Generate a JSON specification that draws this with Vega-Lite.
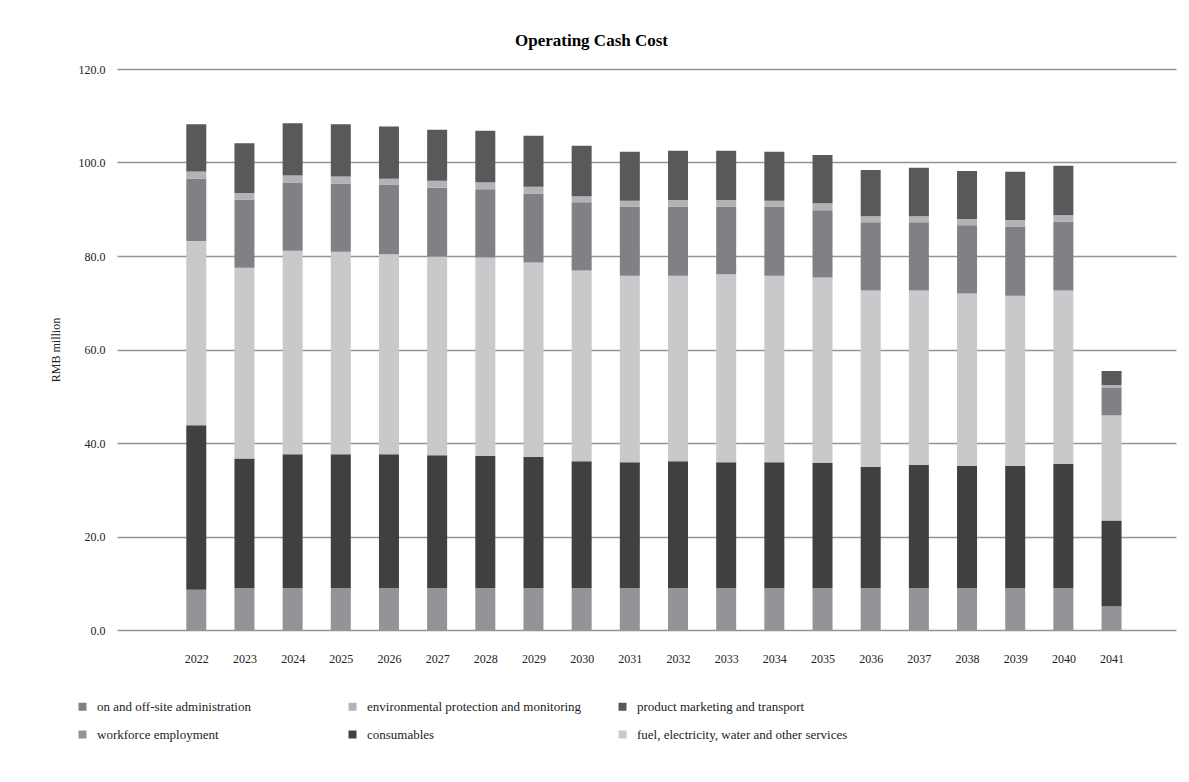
{
  "$schema": "https://vega.github.io/schema/vega-lite/v6.json",
  "autosize": {"type": "none"},
  "width": 1059,
  "height": 561,
  "padding": {"left": 117, "top": 69, "right": 13, "bottom": 152},
  "background": "white",
  "title": {
    "text": "Operating Cash Cost",
    "font": "Liberation Serif",
    "fontSize": 17,
    "fontWeight": "bold",
    "color": "#000000",
    "anchor": "middle",
    "frame": "group",
    "dx": -55,
    "baseline": "alphabetic",
    "offset": 0
  },
  "config": {
    "view": {"stroke": null},
    "font": "Liberation Serif"
  },
  "data": {
    "values": [
      {"year": 2022, "category": "workforce employment", "value": 8.6},
      {"year": 2022, "category": "consumables", "value": 35.2},
      {"year": 2022, "category": "fuel, electricity, water and other services", "value": 39.4},
      {"year": 2022, "category": "on and off-site administration", "value": 13.4},
      {"year": 2022, "category": "environmental protection and monitoring", "value": 1.5},
      {"year": 2022, "category": "product marketing and transport", "value": 10.1},
      {"year": 2023, "category": "workforce employment", "value": 9.0},
      {"year": 2023, "category": "consumables", "value": 27.7},
      {"year": 2023, "category": "fuel, electricity, water and other services", "value": 40.8},
      {"year": 2023, "category": "on and off-site administration", "value": 14.6},
      {"year": 2023, "category": "environmental protection and monitoring", "value": 1.4},
      {"year": 2023, "category": "product marketing and transport", "value": 10.6},
      {"year": 2024, "category": "workforce employment", "value": 9.0},
      {"year": 2024, "category": "consumables", "value": 28.6},
      {"year": 2024, "category": "fuel, electricity, water and other services", "value": 43.5},
      {"year": 2024, "category": "on and off-site administration", "value": 14.6},
      {"year": 2024, "category": "environmental protection and monitoring", "value": 1.5},
      {"year": 2024, "category": "product marketing and transport", "value": 11.2},
      {"year": 2025, "category": "workforce employment", "value": 9.0},
      {"year": 2025, "category": "consumables", "value": 28.6},
      {"year": 2025, "category": "fuel, electricity, water and other services", "value": 43.3},
      {"year": 2025, "category": "on and off-site administration", "value": 14.6},
      {"year": 2025, "category": "environmental protection and monitoring", "value": 1.5},
      {"year": 2025, "category": "product marketing and transport", "value": 11.2},
      {"year": 2026, "category": "workforce employment", "value": 9.0},
      {"year": 2026, "category": "consumables", "value": 28.6},
      {"year": 2026, "category": "fuel, electricity, water and other services", "value": 42.8},
      {"year": 2026, "category": "on and off-site administration", "value": 14.8},
      {"year": 2026, "category": "environmental protection and monitoring", "value": 1.3},
      {"year": 2026, "category": "product marketing and transport", "value": 11.2},
      {"year": 2027, "category": "workforce employment", "value": 9.0},
      {"year": 2027, "category": "consumables", "value": 28.4},
      {"year": 2027, "category": "fuel, electricity, water and other services", "value": 42.5},
      {"year": 2027, "category": "on and off-site administration", "value": 14.7},
      {"year": 2027, "category": "environmental protection and monitoring", "value": 1.5},
      {"year": 2027, "category": "product marketing and transport", "value": 10.9},
      {"year": 2028, "category": "workforce employment", "value": 9.0},
      {"year": 2028, "category": "consumables", "value": 28.2},
      {"year": 2028, "category": "fuel, electricity, water and other services", "value": 42.5},
      {"year": 2028, "category": "on and off-site administration", "value": 14.6},
      {"year": 2028, "category": "environmental protection and monitoring", "value": 1.5},
      {"year": 2028, "category": "product marketing and transport", "value": 11.0},
      {"year": 2029, "category": "workforce employment", "value": 9.0},
      {"year": 2029, "category": "consumables", "value": 28.0},
      {"year": 2029, "category": "fuel, electricity, water and other services", "value": 41.6},
      {"year": 2029, "category": "on and off-site administration", "value": 14.7},
      {"year": 2029, "category": "environmental protection and monitoring", "value": 1.5},
      {"year": 2029, "category": "product marketing and transport", "value": 10.9},
      {"year": 2030, "category": "workforce employment", "value": 9.0},
      {"year": 2030, "category": "consumables", "value": 27.1},
      {"year": 2030, "category": "fuel, electricity, water and other services", "value": 40.8},
      {"year": 2030, "category": "on and off-site administration", "value": 14.6},
      {"year": 2030, "category": "environmental protection and monitoring", "value": 1.3},
      {"year": 2030, "category": "product marketing and transport", "value": 10.8},
      {"year": 2031, "category": "workforce employment", "value": 9.0},
      {"year": 2031, "category": "consumables", "value": 26.9},
      {"year": 2031, "category": "fuel, electricity, water and other services", "value": 39.9},
      {"year": 2031, "category": "on and off-site administration", "value": 14.7},
      {"year": 2031, "category": "environmental protection and monitoring", "value": 1.3},
      {"year": 2031, "category": "product marketing and transport", "value": 10.5},
      {"year": 2032, "category": "workforce employment", "value": 9.0},
      {"year": 2032, "category": "consumables", "value": 27.1},
      {"year": 2032, "category": "fuel, electricity, water and other services", "value": 39.7},
      {"year": 2032, "category": "on and off-site administration", "value": 14.7},
      {"year": 2032, "category": "environmental protection and monitoring", "value": 1.5},
      {"year": 2032, "category": "product marketing and transport", "value": 10.5},
      {"year": 2033, "category": "workforce employment", "value": 9.0},
      {"year": 2033, "category": "consumables", "value": 26.9},
      {"year": 2033, "category": "fuel, electricity, water and other services", "value": 40.2},
      {"year": 2033, "category": "on and off-site administration", "value": 14.4},
      {"year": 2033, "category": "environmental protection and monitoring", "value": 1.5},
      {"year": 2033, "category": "product marketing and transport", "value": 10.5},
      {"year": 2034, "category": "workforce employment", "value": 9.0},
      {"year": 2034, "category": "consumables", "value": 26.9},
      {"year": 2034, "category": "fuel, electricity, water and other services", "value": 39.9},
      {"year": 2034, "category": "on and off-site administration", "value": 14.7},
      {"year": 2034, "category": "environmental protection and monitoring", "value": 1.3},
      {"year": 2034, "category": "product marketing and transport", "value": 10.5},
      {"year": 2035, "category": "workforce employment", "value": 9.0},
      {"year": 2035, "category": "consumables", "value": 26.7},
      {"year": 2035, "category": "fuel, electricity, water and other services", "value": 39.7},
      {"year": 2035, "category": "on and off-site administration", "value": 14.4},
      {"year": 2035, "category": "environmental protection and monitoring", "value": 1.5},
      {"year": 2035, "category": "product marketing and transport", "value": 10.3},
      {"year": 2036, "category": "workforce employment", "value": 9.0},
      {"year": 2036, "category": "consumables", "value": 25.9},
      {"year": 2036, "category": "fuel, electricity, water and other services", "value": 37.7},
      {"year": 2036, "category": "on and off-site administration", "value": 14.6},
      {"year": 2036, "category": "environmental protection and monitoring", "value": 1.3},
      {"year": 2036, "category": "product marketing and transport", "value": 9.9},
      {"year": 2037, "category": "workforce employment", "value": 9.0},
      {"year": 2037, "category": "consumables", "value": 26.3},
      {"year": 2037, "category": "fuel, electricity, water and other services", "value": 37.3},
      {"year": 2037, "category": "on and off-site administration", "value": 14.6},
      {"year": 2037, "category": "environmental protection and monitoring", "value": 1.3},
      {"year": 2037, "category": "product marketing and transport", "value": 10.4},
      {"year": 2038, "category": "workforce employment", "value": 9.0},
      {"year": 2038, "category": "consumables", "value": 26.1},
      {"year": 2038, "category": "fuel, electricity, water and other services", "value": 36.9},
      {"year": 2038, "category": "on and off-site administration", "value": 14.6},
      {"year": 2038, "category": "environmental protection and monitoring", "value": 1.3},
      {"year": 2038, "category": "product marketing and transport", "value": 10.3},
      {"year": 2039, "category": "workforce employment", "value": 9.0},
      {"year": 2039, "category": "consumables", "value": 26.1},
      {"year": 2039, "category": "fuel, electricity, water and other services", "value": 36.4},
      {"year": 2039, "category": "on and off-site administration", "value": 14.7},
      {"year": 2039, "category": "environmental protection and monitoring", "value": 1.5},
      {"year": 2039, "category": "product marketing and transport", "value": 10.3},
      {"year": 2040, "category": "workforce employment", "value": 9.0},
      {"year": 2040, "category": "consumables", "value": 26.5},
      {"year": 2040, "category": "fuel, electricity, water and other services", "value": 37.1},
      {"year": 2040, "category": "on and off-site administration", "value": 14.8},
      {"year": 2040, "category": "environmental protection and monitoring", "value": 1.3},
      {"year": 2040, "category": "product marketing and transport", "value": 10.6},
      {"year": 2041, "category": "workforce employment", "value": 5.1},
      {"year": 2041, "category": "consumables", "value": 18.3},
      {"year": 2041, "category": "fuel, electricity, water and other services", "value": 22.5},
      {"year": 2041, "category": "on and off-site administration", "value": 6.0},
      {"year": 2041, "category": "environmental protection and monitoring", "value": 0.5},
      {"year": 2041, "category": "product marketing and transport", "value": 3.0}
    ]
  },
  "transform": [
    {"calculate": "indexof(['workforce employment', 'consumables', 'fuel, electricity, water and other services', 'on and off-site administration', 'environmental protection and monitoring', 'product marketing and transport'], datum.category)", "as": "stackOrder"}
  ],
  "mark": {"type": "bar", "width": 20},
  "encoding": {
    "x": {
      "field": "year",
      "type": "quantitative",
      "scale": {"domain": [2020.458, 2042.234], "nice": false, "zero": false},
      "axis": {
        "title": null,
        "values": [2022, 2023, 2024, 2025, 2026, 2027, 2028, 2029, 2030, 2031, 2032, 2033, 2034, 2035, 2036, 2037, 2038, 2039, 2040, 2041],
        "format": "d",
        "grid": false,
        "domain": false,
        "ticks": false,
        "labelAngle": 0,
        "labelFont": "Liberation Serif",
        "labelFontSize": 12,
        "labelColor": "#222222",
        "labelPadding": 23,
        "labelFlush": false
      }
    },
    "y": {
      "field": "value",
      "type": "quantitative",
      "stack": "zero",
      "scale": {"domain": [0, 120], "nice": false},
      "axis": {
        "title": "RMB million",
        "titleFont": "Liberation Serif",
        "titleFontSize": 12,
        "titleFontWeight": "normal",
        "titleColor": "#222222",
        "titlePadding": 16,
        "values": [0, 20, 40, 60, 80, 100, 120],
        "format": ".1f",
        "domain": false,
        "ticks": false,
        "labelFont": "Liberation Serif",
        "labelFontSize": 12,
        "labelColor": "#222222",
        "labelPadding": 12,
        "grid": true,
        "gridColor": "#939498",
        "gridWidth": 1.6
      }
    },
    "order": {"field": "stackOrder", "type": "quantitative", "sort": "ascending"},
    "color": {
      "field": "category",
      "type": "nominal",
      "scale": {
        "domain": [
          "workforce employment",
          "consumables",
          "fuel, electricity, water and other services",
          "on and off-site administration",
          "environmental protection and monitoring",
          "product marketing and transport"
        ],
        "range": ["#939498", "#404040", "#c8c9cb", "#808185", "#b2b3b5", "#58595b"]
      },
      "legend": {
        "title": null,
        "orient": "none",
        "legendX": -41,
        "legendY": 631,
        "direction": "horizontal",
        "columns": 3,
        "gridAlign": "all",
        "columnPadding": 34,
        "rowPadding": 14,
        "padding": 0,
        "symbolType": "square",
        "symbolSize": 64,
        "symbolStrokeWidth": 0,
        "labelFont": "Liberation Serif",
        "labelFontSize": 13,
        "labelColor": "#222222",
        "labelOffset": 8,
        "labelLimit": 400,
        "values": [
          "on and off-site administration",
          "environmental protection and monitoring",
          "product marketing and transport",
          "workforce employment",
          "consumables",
          "fuel, electricity, water and other services"
        ]
      }
    }
  }
}
